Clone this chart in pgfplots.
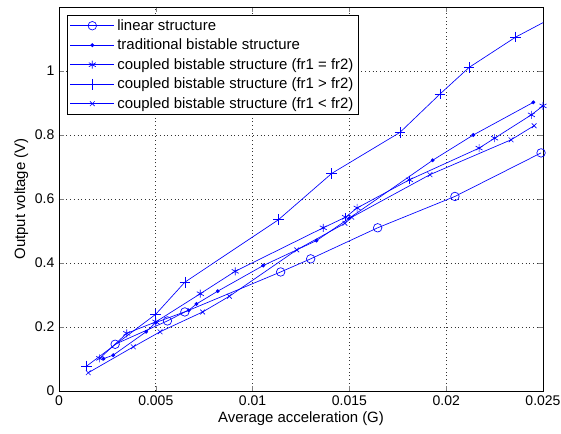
\documentclass[border=0pt]{standalone}
\usepackage{pgfplots}
\pgfplotsset{compat=1.18}
\usepackage{fontspec}
\setmainfont{Liberation Sans}
\begin{document}
\begin{tikzpicture}
\useasboundingbox (-44.25pt,-32.25pt) rectangle (376.5pt,293.25pt);
\begin{axis}[
  at={(0,0)}, anchor=south west,
  scale only axis, width=363pt, height=288pt,
  xmin=0, xmax=0.025, ymin=0, ymax=1.2,
  scaled x ticks=false, scaled y ticks=false,
  /pgf/number format/assume math mode=true,
  xtick={0,0.005,0.01,0.015,0.02,0.025},
  xticklabels={0,0.005,0.01,0.015,0.02,0.025},
  ytick={0,0.2,0.4,0.6,0.8,1},
  yticklabels={0,0.2,0.4,0.6,0.8,1},
  tick align=inside, tick pos=both,
  major tick length=4pt,
  grid=major,
  grid style={black!80, dash pattern=on 0.6pt off 2.2pt, line width=0.5pt},
  axis line style={black, line width=0.5pt},
  font=\fontsize{11.2}{13}\selectfont,
  tick label style={font=\fontsize{10.5}{12}\selectfont},
  xlabel={Average acceleration (G)},
  ylabel={Output voltage (V)},
  xlabel style={yshift=2pt},
  ylabel style={yshift=-2pt},
  clip mode=global,
  legend cell align=left,
  legend style={at={(0,1)}, xshift=6pt, yshift=-6pt, anchor=north west,
    font=\fontsize{11.2}{13}\selectfont, draw=black, line width=0.5pt,
    inner xsep=2pt, inner ysep=1pt, row sep=1pt},
  legend image code/.code={\draw[mark repeat=2,mark phase=2] plot coordinates {(0pt,0pt) (16.5pt,0pt) (33pt,0pt)};},
]
\addplot[blue, line width=0.5pt, mark=o, mark size=3.2pt, mark options={solid, fill=none, draw=blue}] coordinates {
(0.0029,0.146) (0.0056,0.219) (0.0065,0.247) (0.01145,0.372) (0.0130,0.413) (0.01646,0.510) (0.02045,0.608) (0.0249,0.744)};
\addlegendentry{linear structure}
\addplot[blue, line width=0.5pt, mark=*, mark size=1.2pt, mark options={solid, fill=blue, draw=blue}] coordinates {
(0.0023,0.101) (0.0028,0.112) (0.0045,0.185) (0.0050,0.214) (0.0067,0.252) (0.0071,0.272) (0.0082,0.312) (0.01055,0.392) (0.0133,0.470) (0.0150,0.540) (0.0193,0.721) (0.0214,0.800) (0.0245,0.902)};
\addlegendentry{traditional bistable structure}
\addplot[blue, line width=0.5pt, mark=asterisk, mark size=3pt, mark options={solid, draw=blue}] coordinates {
(0.0021,0.102) (0.0035,0.180) (0.0050,0.216) (0.0073,0.304) (0.0091,0.374) (0.01365,0.510) (0.0148,0.543) (0.0154,0.572) (0.0181,0.660) (0.0217,0.759) (0.0225,0.790) (0.0244,0.863) (0.0250,0.891)};
\addlegendentry{coupled bistable structure (fr1 = fr2)}
\addplot[blue, line width=0.5pt, mark=+, mark size=4pt, mark options={solid, draw=blue}] coordinates {
(0.00143,0.078) (0.0050,0.240) (0.0065,0.340) (0.01133,0.535) (0.01409,0.680) (0.01761,0.808) (0.01968,0.928) (0.02118,1.011) (0.02359,1.106) (0.0255,1.167)};
\addlegendentry{coupled bistable structure (fr1 > fr2)}
\addplot[blue, line width=0.5pt, mark=x, mark size=2.5pt, mark options={solid, draw=blue}] coordinates {
(0.00151,0.057) (0.00384,0.138) (0.00522,0.185) (0.00742,0.247) (0.0088,0.296) (0.01228,0.441) (0.01477,0.524) (0.01512,0.543) (0.01916,0.676) (0.02335,0.785) (0.02454,0.829)};
\addlegendentry{coupled bistable structure (fr1 < fr2)}
\end{axis}
\end{tikzpicture}
\end{document}
